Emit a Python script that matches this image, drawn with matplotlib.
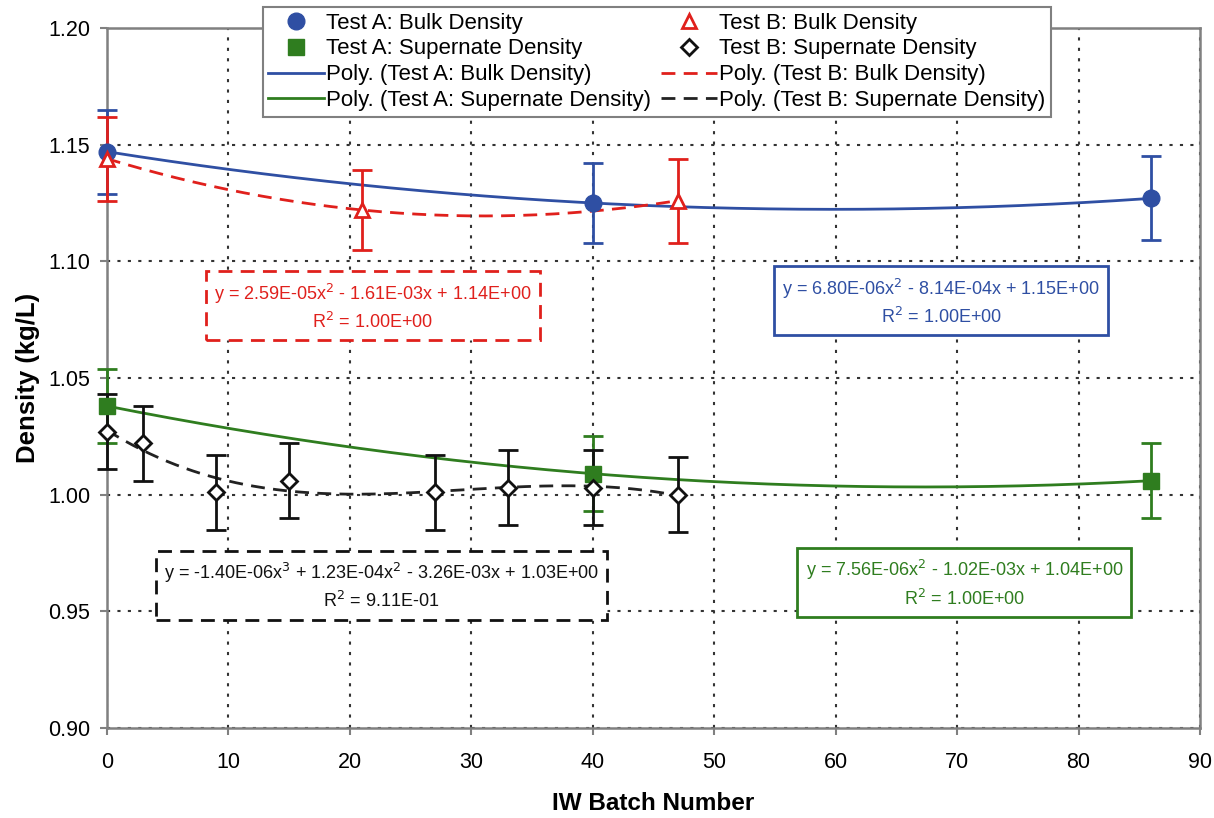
"""Densidad vs numero de lote IW (Test A / Test B) con ajustes polinomiales."""

import matplotlib.pyplot as plt
import numpy as np
from matplotlib.ticker import FormatStrFormatter

plt.rcParams["font.family"] = ["Liberation Sans", "DejaVu Sans"]

# Test A: Bulk Density
a_bulk_x = [0, 40, 86]
a_bulk_y = [1.147, 1.125, 1.127]
a_bulk_err = [0.018, 0.017, 0.018]

# Test B: Bulk Density
b_bulk_x = [0, 21, 47]
b_bulk_y = [1.144, 1.122, 1.126]
b_bulk_err = [0.018, 0.017, 0.018]

# Test A: Supernate Density
a_sup_x = [0, 40, 86]
a_sup_y = [1.038, 1.009, 1.006]
a_sup_err = [0.016, 0.016, 0.016]

# Test B: Supernate Density
b_sup_x = [0, 3, 9, 15, 27, 33, 40, 47]
b_sup_y = [1.027, 1.022, 1.001, 1.006, 1.001, 1.003, 1.003, 1.000]
b_sup_err = [0.016, 0.016, 0.016, 0.016, 0.016, 0.016, 0.016, 0.016]

eq_a_bulk = "y = 6.80E-06x$^2$ - 8.14E-04x + 1.15E+00\nR$^2$ = 1.00E+00"
eq_b_bulk = "y = 2.59E-05x$^2$ - 1.61E-03x + 1.14E+00\nR$^2$ = 1.00E+00"
eq_a_sup = "y = 7.56E-06x$^2$ - 1.02E-03x + 1.04E+00\nR$^2$ = 1.00E+00"
eq_b_sup = ("y = -1.40E-06x$^3$ + 1.23E-04x$^2$ - 3.26E-03x + 1.03E+00\n"
            "R$^2$ = 9.11E-01")

BLUE = "#2f4fa3"
RED = "#e0201c"
GREEN = "#2f7d1f"
BLACK = "#111111"

fig = plt.figure(figsize=(12.14, 8.18), dpi=100)
ax = fig.add_axes([0.088, 0.110, 0.9005, 0.8558])


def trend(x, y, deg):
    coef = np.polyfit(x, y, deg)
    xs = np.linspace(min(x), max(x), 200)
    return xs, np.polyval(coef, xs)


xs, ys = trend(a_bulk_x, a_bulk_y, 2)
l_a_bulk, = ax.plot(xs, ys, color=BLUE, lw=2,
                    label="Poly. (Test A: Bulk Density)", zorder=3)
xs, ys = trend(b_bulk_x, b_bulk_y, 2)
l_b_bulk, = ax.plot(xs, ys, color=RED, lw=2, ls=(0, (5, 3)),
                    label="Poly. (Test B: Bulk Density)", zorder=3)
xs, ys = trend(a_sup_x, a_sup_y, 2)
l_a_sup, = ax.plot(xs, ys, color=GREEN, lw=2,
                   label="Poly. (Test A: Supernate Density)", zorder=3)
xs, ys = trend(b_sup_x, b_sup_y, 3)
l_b_sup, = ax.plot(xs, ys, color="#222222", lw=2, ls=(0, (5, 3)),
                   label="Poly. (Test B: Supernate Density)", zorder=3)

for x, y, e, c in [(a_bulk_x, a_bulk_y, a_bulk_err, BLUE),
                   (b_bulk_x, b_bulk_y, b_bulk_err, RED),
                   (a_sup_x, a_sup_y, a_sup_err, GREEN),
                   (b_sup_x, b_sup_y, b_sup_err, BLACK)]:
    eb = ax.errorbar(x, y, yerr=e, fmt="none", ecolor=c, elinewidth=2,
                     capsize=7, capthick=2, zorder=4)
    for art in eb.lines[1] + eb.lines[2]:
        art.set_clip_on(False)

m_a_bulk, = ax.plot(a_bulk_x, a_bulk_y, "o", color=BLUE, ms=12,
                    label="Test A: Bulk Density", zorder=5, clip_on=False)
m_b_bulk, = ax.plot(b_bulk_x, b_bulk_y, "^", mfc="white", mec=RED, mew=2,
                    ms=10, label="Test B: Bulk Density", zorder=5,
                    clip_on=False)
m_a_sup, = ax.plot(a_sup_x, a_sup_y, "s", color=GREEN, ms=11,
                   label="Test A: Supernate Density", zorder=5, clip_on=False)
m_b_sup, = ax.plot(b_sup_x, b_sup_y, "D", mfc="white", mec=BLACK, mew=2,
                   ms=8, label="Test B: Supernate Density", zorder=5,
                   clip_on=False)

ax.set_xlim(0, 90)
ax.set_ylim(0.90, 1.20)
ax.set_xticks(np.arange(0, 91, 10))
ax.set_yticks(np.arange(0.90, 1.201, 0.05))
ax.yaxis.set_major_formatter(FormatStrFormatter("%.2f"))
ax.grid(True, color="#333333", ls=(0, (1.5, 3.5)), lw=1.5)
ax.set_axisbelow(True)
for s in ax.spines.values():
    s.set_color("#808080")
    s.set_linewidth(1.8)
ax.tick_params(labelsize=15.5, length=5, color="#808080", width=1.5)
ax.tick_params(axis="x", pad=12)
ax.tick_params(axis="y", pad=7)
ax.set_xlabel("IW Batch Number", fontsize=17.5, fontweight="bold",
              labelpad=14)
ax.set_ylabel("Density (kg/L)", fontsize=18.5, fontweight="bold",
              labelpad=6)

box_kw = dict(fontsize=13, ha="center", va="center", multialignment="center",
              linespacing=1.4, zorder=6)
ax.text(21.9, 1.0805, eq_b_bulk, color=RED,
        bbox=dict(boxstyle="square,pad=0.45", fc="white", ec=RED, lw=2,
                  ls=(0, (5, 3))), **box_kw)
ax.text(68.7, 1.0826, eq_a_bulk, color=BLUE,
        bbox=dict(boxstyle="square,pad=0.45", fc="white", ec=BLUE, lw=2),
        **box_kw)
ax.text(22.6, 0.9608, eq_b_sup, color=BLACK,
        bbox=dict(boxstyle="square,pad=0.45", fc="white", ec=BLACK, lw=2,
                  ls=(0, (5, 3))), **box_kw)
ax.text(70.6, 0.962, eq_a_sup, color=GREEN,
        bbox=dict(boxstyle="square,pad=0.45", fc="white", ec=GREEN, lw=2),
        **box_kw)

handles = [m_a_bulk, m_a_sup, l_a_bulk, l_a_sup,
           m_b_bulk, m_b_sup, l_b_bulk, l_b_sup]
leg = fig.legend(handles=handles, loc="upper center",
                 bbox_to_anchor=(0.541, 0.9915), ncol=2, fontsize=16,
                 frameon=True, fancybox=False, edgecolor="#808080",
                 framealpha=1, handlelength=2.5, handletextpad=0.1,
                 columnspacing=0.45, labelspacing=0.22, borderpad=0.25,
                 borderaxespad=0)
leg.get_frame().set_linewidth(1.5)
leg.set_zorder(10)

fig.savefig("out.png", dpi=100)
